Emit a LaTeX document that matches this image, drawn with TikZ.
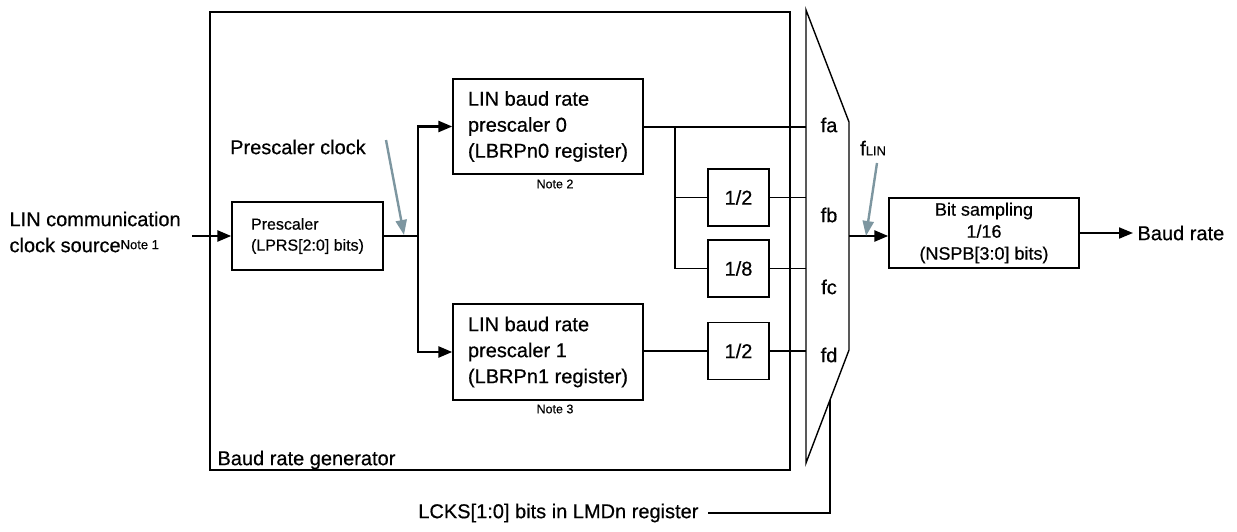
\documentclass[tikz,border=0pt]{standalone}
\usepackage{fontspec}
\setmainfont{Liberation Sans}[FakeBold=0.5]
\usetikzlibrary{arrows.meta}
\definecolor{pgray}{RGB}{125,150,160}
\tikzset{
  box/.style={draw, line width=1.4pt, inner sep=0pt, align=left},
  big/.style={font=\fontsize{20}{26}\selectfont},
  mid/.style={font=\fontsize{16}{21}\selectfont},
  small/.style={font=\fontsize{12.5}{15}\selectfont},
  thin line/.style={line width=1.4pt},
  bus/.style={line width=2.6pt},
  arr/.style={-{Triangle[length=14pt,width=11pt]}},
  grayarr/.style={draw=pgray, line width=2.4pt, -{Triangle[length=15pt,width=11pt]}, color=pgray},
}
\begin{document}
\begin{tikzpicture}[x=1pt,y=-1pt]
\useasboundingbox (0,0) rectangle (1237,532);
% outer generator box
\draw[thin line] (210,12) rectangle (790,470);
\node[big, anchor=west] (gen) at (214,460) {Baud rate generator};
% mux
\draw[thin line] (806,10) -- (849,122) -- (849,350) -- (806,463) -- cycle;
\coordinate (muxa) at (806,127);
% boxes
\node[box, mid, minimum width=151pt, minimum height=68pt] (pre) at (307.5,236) {Prescaler\\(LPRS[2:0] bits)};
\node[box, big, minimum width=190pt, minimum height=95pt] (lb0) at (548,126.5) {LIN baud rate\\prescaler 0\\(LBRPn0 register)};
\node[box, big, minimum width=190pt, minimum height=96pt] (lb1) at (548,352) {LIN baud rate\\prescaler 1\\(LBRPn1 register)};
\node[small] (n2) at (555,184) {Note 2};
\node[small] (n3) at (555,409) {Note 3};
\node[box, big, minimum width=61pt, minimum height=57pt, align=center] (d2a) at (738.5,197.5) {1/2};
\node[box, big, minimum width=61pt, minimum height=57pt, align=center] (d8) at (738.5,268.5) {1/8};
\node[box, big, minimum width=61pt, minimum height=57pt, align=center] (d2b) at (738.5,351) {1/2};
\node[box, minimum width=190pt, minimum height=70pt, align=center, font=\fontsize{18}{22}\selectfont] (bs) at (984,233) {Bit sampling\\1/16\\(NSPB[3:0] bits)};
% mux labels
\node[big] (fa) at (829,125) {fa};
\node[big] (fb) at (829,215) {fb};
\node[big] (fc) at (829,287) {fc};
\node[big] (fd) at (829,355) {fd};
% input
\node[big, anchor=west, align=left] (src) at (6,232) {LIN communication\\clock source{\fontsize{13}{15}\selectfont\raisebox{3pt}{Note 1}}};
\coordinate (in) at (192,236);
\draw[bus, arr] (in) -- (pre.west);
% prescaler to LBRP
\coordinate (j) at (418,236);
\draw[bus] (pre.east) -- (j);
\draw[bus, arr] (j) |- (lb0.west);
\draw[bus, arr] (j) |- (lb1.west);
% LBRP0 outputs
\coordinate (br) at (675,127);
\draw[thin line] (lb0.east |- br) -- (br -| muxa);
\draw[thin line] (br) |- (d8.west);
\draw[thin line] (br |- d2a.west) -- (d2a.west);
\draw[thin line] (d2a.east) -- (d2a.east -| muxa);
\draw[thin line] (d8.east) -- (d8.east -| muxa);
\draw[thin line] (lb1.east |- d2b.west) -- (d2b.west);
\draw[thin line] (d2b.east) -- (d2b.east -| muxa);
% mux output
\coordinate (mo) at (849,236);
\draw[bus, arr] (mo) -- (bs.west |- mo);
\coordinate (bo) at (1133,233);
\draw[line width=2pt, arr] (bs.east) -- (bo);
\node[big, anchor=west] (baud) at (1134,233) {Baud rate};
% gray arrows
\node[big] (pclk) at (298,147) {Prescaler clock};
\coordinate (pc1) at (386,140);
\coordinate (pc2) at (404,235);
\draw[grayarr] (pc1) -- (pc2);
\node[big, anchor=west, inner sep=0pt] (flin) at (860,148) {f{\fontsize{13}{15}\selectfont LIN}};
\coordinate (fl1) at (877,163);
\coordinate (fl2) at (866,236);
\draw[grayarr] (fl1) -- (fl2);
% LCKS
\coordinate (ls) at (830,400);
\coordinate (lc) at (830,513);
\node[big, anchor=east] (lcks) at (702,513) {LCKS[1:0] bits in LMDn register};
\draw[thin line] (ls) -- (lc) -- (lcks.east -| 708,0);
\end{tikzpicture}
\end{document}
